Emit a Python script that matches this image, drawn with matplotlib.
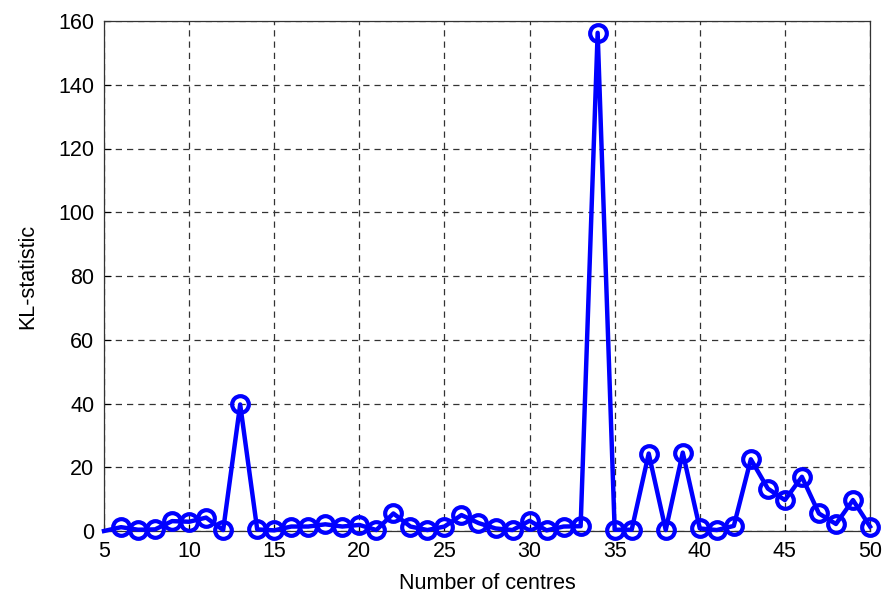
import matplotlib
matplotlib.use('Agg')
import matplotlib.pyplot as plt

# number of centres vs KL-statistic
centres = list(range(5, 51))
kl_stat = [0.0, 1.2, 0.4, 0.5, 3.1, 2.9, 4.2, 0.3, 39.7, 0.5, 0.2,
           1.4, 1.4, 2.1, 1.4, 1.9, 0.3, 5.5, 1.4, 0.3, 1.4,
           5.0, 2.5, 0.8, 0.3, 3.2, 0.2, 1.4, 1.5, 156.3, 0.4,
           0.4, 24.3, 0.3, 24.6, 0.8, 0.3, 1.6, 22.5, 13.3, 9.7,
           17.0, 5.5, 2.2, 9.7, 1.4]

plt.rcParams['font.family'] = ['Liberation Sans', 'DejaVu Sans']

fig = plt.figure(figsize=(8.89, 5.96), dpi=100)
ax = fig.add_axes([104 / 889, 1 - 531 / 596, 766 / 889, 510 / 596])

ax.plot(centres, kl_stat, color='#0000ff', linewidth=3.2, marker='o',
        markersize=12, markerfacecolor='none', markeredgewidth=3,
        markevery=list(range(1, len(centres))), clip_on=False, zorder=3)

ax.set_xlim(5, 50)
ax.set_ylim(0, 160)
ax.set_xticks(range(5, 51, 5))
ax.set_yticks(range(0, 161, 20))
ax.grid(True, linestyle=(0, (5, 4)), color='#333333', linewidth=0.9)
ax.tick_params(direction='in', labelsize=15.5, length=5, pad=7)
for s in ax.spines.values():
    s.set_linewidth(0.9)
    s.set_color('#333333')

ax.set_xlabel('Number of centres', fontsize=15.5, labelpad=8)
ax.set_ylabel('KL-statistic', fontsize=15.5, labelpad=14)

fig.savefig('out.png', dpi=100)
